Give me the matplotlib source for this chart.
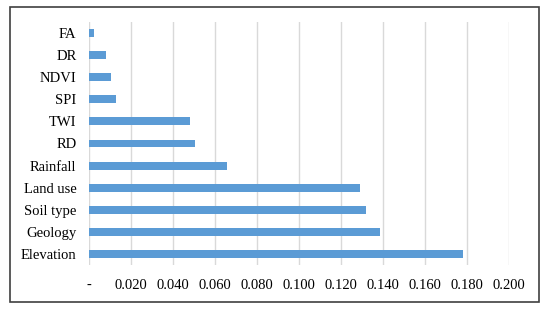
import numpy as np
import matplotlib
import matplotlib.pyplot as plt
from matplotlib.patches import Rectangle

matplotlib.use("Agg")

factors = ['Elevation', 'Geology', 'Soil type', 'Land use', 'Rainfall',
           'RD', 'TWI', 'SPI', 'NDVI', 'DR', 'FA']
weights = [0.1783, 0.1386, 0.1317, 0.1291, 0.0655,
           0.0506, 0.0480, 0.0129, 0.0107, 0.0080, 0.0025]
xticks = [0.0, 0.02, 0.04, 0.06, 0.08, 0.10, 0.12, 0.14, 0.16, 0.18, 0.20]
xtick_labels = ['-'] + ['%.3f' % v for v in xticks[1:]]

plt.rcParams['font.family'] = ['Liberation Serif', 'DejaVu Serif']

fig = plt.figure(figsize=(5.5, 3.09), dpi=100)
ax = fig.add_axes([89 / 550, 1 - 265 / 309, (509 - 89) / 550, (265 - 22) / 309])

y = np.arange(len(factors))
ax.barh(y, weights, height=0.36, color='#5B9BD5', zorder=3)

ax.set_xlim(0, 0.2)
ax.set_ylim(-0.5, len(factors) - 0.5)
ax.set_xticks(xticks)
ax.set_xticklabels(xtick_labels, fontsize=10.5)
ax.set_yticks(y)
ax.set_yticklabels(factors, fontsize=10.5)
ax.tick_params(axis='both', length=0)
ax.tick_params(axis='x', pad=10)
ax.tick_params(axis='y', pad=9)
ax.grid(axis='x', color='#d9d9d9', linewidth=1, zorder=0)
for s in ax.spines.values():
    s.set_visible(False)

fig.patches.append(Rectangle((10 / 550, 1 - 302 / 309), 529 / 550, 295 / 309,
                             transform=fig.transFigure, fill=False,
                             edgecolor='#404040', linewidth=1.2))

fig.savefig('out.png', dpi=100)
